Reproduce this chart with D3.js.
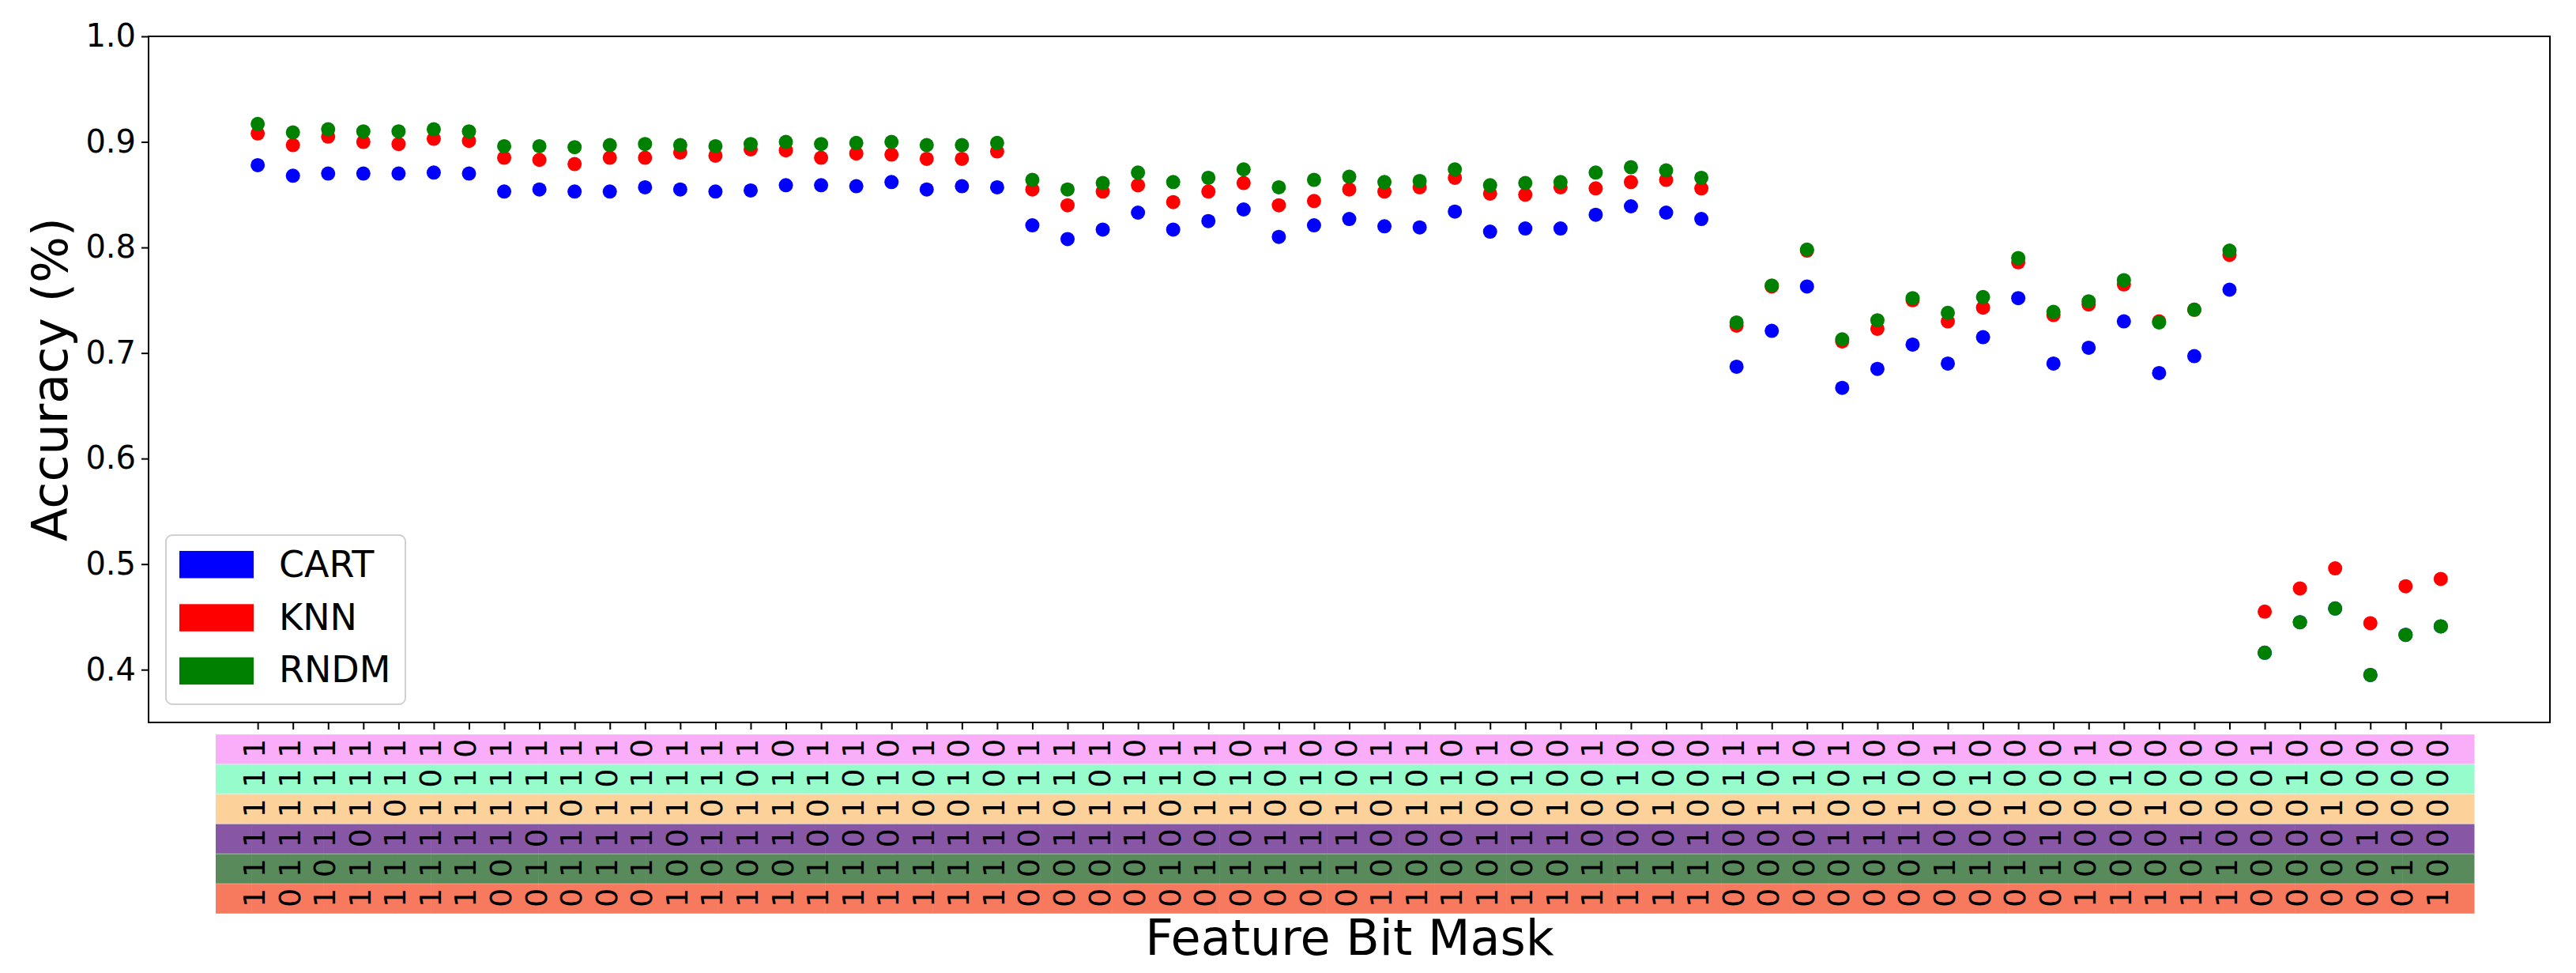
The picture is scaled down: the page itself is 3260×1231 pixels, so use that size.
<!DOCTYPE html>
<html><head><meta charset="utf-8">
<script src="https://cdn.jsdelivr.net/npm/d3@7/dist/d3.min.js"></script>
<style>body{margin:0;background:#fff}svg{display:block}text{font-family:"DejaVu Sans",sans-serif}</style>
</head><body>
<svg id="c" width="3260" height="1231"></svg>
<script>
const masks = ["111111","111110","111101","111011","110111","101111","011111",
"111100","111010","110110","101110","011110","111001","110101","101101","011101","110011","101011","011011","100111","010111","001111",
"111000","110100","101100","011100","110010","101010","011010","100110","010110","001110","110001","101001","011001","100101","010101","001101","100011","010011","001011","000111",
"110000","101000","011000","100100","010100","001100","100010","010010","001010","000110","100001","010001","001001","000101","000011",
"100000","010000","001000","000100","000010","000001"];
const cart = [0.878,0.868,0.870,0.870,0.870,0.871,0.870,
0.853,0.855,0.853,0.853,0.857,0.855,0.853,0.854,0.859,0.859,0.858,0.862,0.855,0.858,0.857,
0.821,0.808,0.817,0.833,0.817,0.825,0.836,0.810,0.821,0.827,0.820,0.819,0.834,0.815,0.818,0.818,0.831,0.839,0.833,0.827,
0.687,0.721,0.763,0.667,0.685,0.708,0.690,0.715,0.752,0.690,0.705,0.730,0.681,0.697,0.760,
0.416,0.445,0.458,0.395,0.433,0.441];
const knn = [0.908,0.897,0.905,0.900,0.898,0.903,0.901,
0.885,0.883,0.879,0.885,0.885,0.890,0.887,0.893,0.892,0.885,0.889,0.888,0.884,0.884,0.891,
0.855,0.840,0.853,0.859,0.843,0.853,0.861,0.840,0.844,0.855,0.853,0.857,0.866,0.851,0.850,0.857,0.856,0.862,0.864,0.856,
0.726,0.763,0.797,0.711,0.723,0.750,0.730,0.743,0.786,0.736,0.746,0.765,0.730,0.741,0.793,
0.455,0.477,0.496,0.444,0.479,0.486];
const rndm = [0.917,0.909,0.912,0.910,0.910,0.912,0.910,
0.896,0.896,0.895,0.897,0.898,0.897,0.896,0.898,0.900,0.898,0.899,0.900,0.897,0.897,0.899,
0.864,0.855,0.861,0.871,0.862,0.866,0.874,0.857,0.864,0.867,0.862,0.863,0.874,0.859,0.861,0.862,0.871,0.876,0.873,0.866,
0.729,0.764,0.798,0.713,0.731,0.752,0.738,0.753,0.790,0.739,0.749,0.769,0.729,0.741,0.797,
0.416,0.445,0.458,0.395,0.433,0.441];
const seriesNames = ["CART","KNN","RNDM"];
const seriesColors = ["#0000ff","#ff0000","#008000"];
const rowColors = ["#faaefa","#96fccc","#fdd19a","#8757a5","#598a5b","#f87a5e"];
const yTicks = [0.4,0.5,0.6,0.7,0.8,0.9,1.0];

const svg = d3.select("#c");
svg.append("rect").attr("width",3260).attr("height",1231).attr("fill","#fff");
const L=188,R=3227,T=46,B=914;
const x = d3.scalePoint().domain(masks).range([L,R]).padding(3.1);
const y = d3.scaleLinear().domain([0.35,1.0]).range([B,T]);

// points
const series=[cart,knn,rndm];
series.forEach((vals,si)=>{
  svg.append("g").selectAll("circle").data(vals).join("circle")
    .attr("cx",(d,i)=>x(masks[i])).attr("cy",d=>y(d)).attr("r",9)
    .attr("fill",seriesColors[si]);
});

// y axis
const ya = svg.append("g").attr("transform",`translate(${L},0)`)
  .call(d3.axisLeft(y).tickValues(yTicks).tickFormat(d3.format(".1f")).tickSize(9).tickPadding(7));
ya.select(".domain").remove();
ya.selectAll("line").attr("stroke","#000").attr("stroke-width",2);
ya.selectAll("text").attr("font-size",40).attr("fill","#000").attr("font-family","DejaVu Sans");
// x axis ticks
const xa = svg.append("g").attr("transform",`translate(0,${B})`)
  .call(d3.axisBottom(x).tickSize(9).tickFormat(""));
xa.select(".domain").remove();
xa.selectAll("line").attr("stroke","#000").attr("stroke-width",2);

// frame
svg.append("rect").attr("x",L).attr("y",T).attr("width",R-L).attr("height",B-T)
  .attr("fill","none").attr("stroke","#000").attr("stroke-width",2);

// table
const tL=273,tR=3131,tT=929,rowH=37.8;
const cellW=(tR-tL)/masks.length;
const tg=svg.append("g");
rowColors.forEach((c,r)=>{
  tg.selectAll(null).data(masks).join("rect")
    .attr("x",(d,i)=>tL+i*cellW).attr("y",tT+r*rowH).attr("width",cellW+0.5).attr("height",rowH)
    .attr("fill",c);
  tg.append("line").attr("x1",tL).attr("x2",tR).attr("y1",tT+r*rowH).attr("y2",tT+r*rowH)
    .attr("stroke","#fff").attr("stroke-opacity",0.35).attr("stroke-width",1);
  tg.selectAll(null).data(masks).join("text")
    .attr("transform",d=>`translate(${x(d)-4},${tT+r*rowH+rowH/2-1}) rotate(-90)`)
    .attr("text-anchor","middle").attr("dominant-baseline","central")
    .attr("font-size",38).attr("fill","#000").text(d=>d[r]);
});

// legend
const lg=svg.append("g");
lg.append("rect").attr("x",210).attr("y",677).attr("width",303).attr("height",214)
  .attr("rx",8).attr("fill","#fff").attr("fill-opacity",0.8).attr("stroke","#d0d0d0").attr("stroke-width",2);
seriesNames.forEach((n,i)=>{
  lg.append("rect").attr("x",227).attr("y",697+i*67.3).attr("width",94).attr("height",34.5).attr("fill",seriesColors[i]);
  lg.append("text").attr("x",353).attr("y",730+i*66.7).attr("font-size",46).attr("fill","#000").text(n);
});

// axis titles
svg.append("text").attr("transform",`translate(85,${(T+B)/2}) rotate(-90)`).attr("text-anchor","middle")
  .attr("font-size",62).attr("fill","#000").text("Accuracy (%)");
svg.append("text").attr("x",1708).attr("y",1208).attr("text-anchor","middle")
  .attr("font-size",62).attr("fill","#000").text("Feature Bit Mask");
</script>
</body></html>
